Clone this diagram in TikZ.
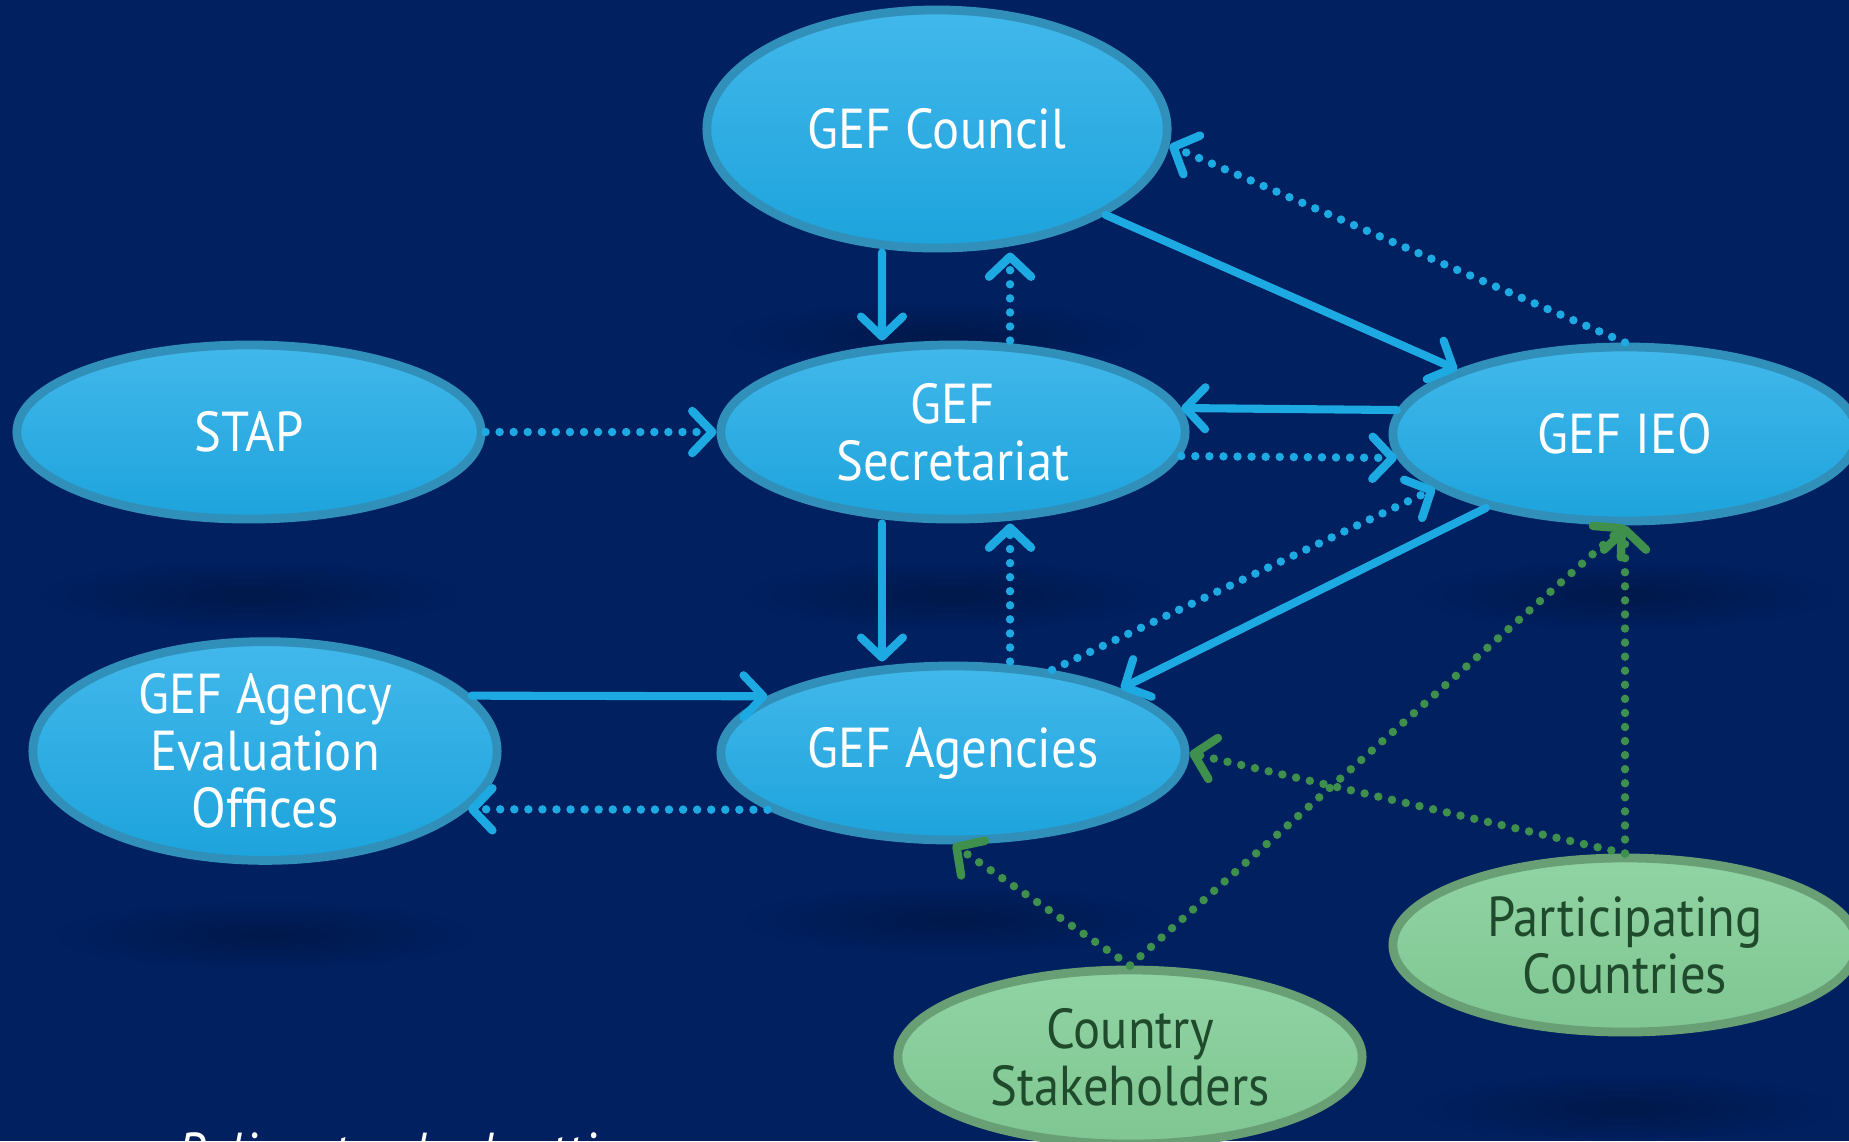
\documentclass[tikz,border=0pt]{standalone}
\usepackage{fontspec}
\setmainfont{PT Sans}[FakeStretch=0.9]
\usetikzlibrary{positioning}
\usetikzlibrary{shapes.geometric}
\usetikzlibrary{arrows.meta}
\usetikzlibrary{fadings}
\definecolor{bgColor}{HTML}{002060}
\definecolor{gefTop}{HTML}{42B8EB}
\definecolor{gefBottom}{HTML}{1DA3DC}
\definecolor{gefRim}{HTML}{3190BA}
\definecolor{arrowColor}{HTML}{1DA9E2}
\definecolor{countryTop}{HTML}{90D4A3}
\definecolor{countryBottom}{HTML}{7FC692}
\definecolor{countryRim}{HTML}{689F74}
\definecolor{countryText}{HTML}{1F4A2C}
\definecolor{greenArrowColor}{HTML}{3F8F4D}
\tikzfading[name=softshadow, inner color=transparent!0, outer color=transparent!100]
\tikzset{
  gef/.style={ellipse, inner sep=0pt, minimum width=4.64cm, minimum height=1.74cm,
    top color=gefTop, bottom color=gefBottom, draw=gefRim, line width=2.5pt,
    text=white, align=center, font=\fontsize{16}{16.2}\selectfont},
  country/.style={gef, top color=countryTop, bottom color=countryBottom,
    draw=countryRim, text=countryText},
  flow/.style={draw=arrowColor, line width=2.3pt, line cap=round,
    -{Straight Barb[round, length=0.2cm, width=0.42cm]}},
  dotflow/.style={flow, line width=2.4pt, dash pattern=on 0pt off 4pt},
  greenflow/.style={dotflow, draw=greenArrowColor},
  glow/.style={fill=black, opacity=0.22, path fading=softshadow}
}
\begin{document}
\begin{tikzpicture}[x=0.01cm, y=-0.01cm]
  \useasboundingbox (0,0) rectangle (1849,1141);
  \fill[bgColor] (0,0) rectangle (1849,1141);

  % soft shadows under the ovals
  \foreach \x/\y in {937/336, 249/595, 953/595, 1625/595, 265/935, 953/920, 1625/1108}
    \fill[glow] (\x,\y) ellipse (2.1cm and 0.35cm);

  \node[gef, minimum width=4.6cm, minimum height=2.38cm] (council) at (937,129) {GEF Council};
  \node[gef] (stap) at (249,432) {STAP};
  \node[gef] (sec) at (953,432) {GEF\\Secretariat};
  \node[gef] (ieo) at (1625,434) {GEF IEO};
  \node[gef, minimum height=2.06cm] (aeo) at (265,751) {GEF Agency\\Evaluation\\Offices};
  \node[gef] (agencies) at (953,753) {GEF Agencies};
  \node[country] (partic) at (1625,945) {Participating\\Countries};
  \node[country] (stake) at (1130,1057) {Country\\Stakeholders};

  \draw[flow] ([xshift=-0.55cm]council.south) -- ([xshift=-0.71cm]sec.north);
  \draw[dotflow] ([xshift=0.57cm]sec.north) -- ([xshift=0.73cm]council.south);
  \draw[flow] (council.-27) -- (ieo.159);
  \draw[dotflow] (ieo.north) -- (council.-4);
  \draw[dotflow] (stap.east) -- (sec.west);
  \draw[flow] (ieo.174) -- (sec.6);
  \draw[dotflow] (sec.-6) -- (ieo.186);
  \draw[flow] ([xshift=-0.71cm]sec.south) -- ([xshift=-0.71cm]agencies.north);
  \draw[dotflow] ([xshift=0.57cm]agencies.north) -- ([xshift=0.57cm]sec.south);
  \draw[dotflow] (agencies.40) -- (ieo.196);
  \draw[flow] (ieo.208) -- (agencies.21);
  \draw[flow] (aeo.15) -- (agencies.163);
  \draw[dotflow] (agencies.197) -- (aeo.-16);

  % countries
  \draw[greenflow] (stake.north) -- (agencies.south);
  \draw[greenflow] (stake.north) -- (ieo.south);
  \draw[greenflow] (partic.north) -- (agencies.east);
  \draw[greenflow] (partic.north) -- (ieo.south);

  \node[anchor=base west, text=white, font=\itshape\fontsize{16}{16}\selectfont] (policy) at (165,1172) {Policy standard setting};
\end{tikzpicture}
\end{document}
